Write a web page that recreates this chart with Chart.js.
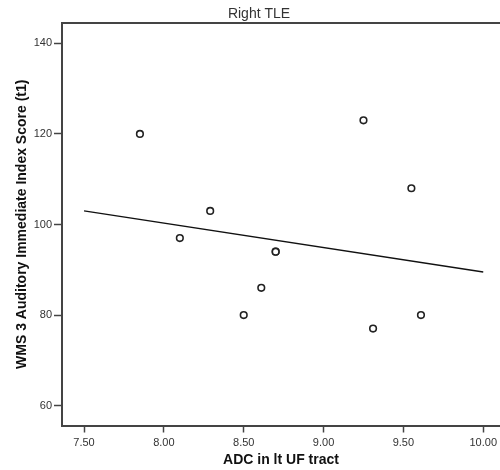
<!DOCTYPE html>
<html>
<head>
<meta charset="utf-8">
<script src="https://cdn.jsdelivr.net/npm/chart.js@4/dist/chart.umd.min.js"></script>
<style>
html,body{margin:0;padding:0;background:#fff;overflow:hidden;}
#wrap{width:500px;height:470px;position:relative;}
</style>
</head>
<body>
<div id="wrap"><canvas id="c"></canvas></div>
<script>
// Data
const adcValues = [7.85, 8.10, 8.29, 8.50, 8.61, 8.70, 8.70, 9.25, 9.31, 9.55, 9.61];
const wmsScores = [120, 97, 103, 80, 86, 94, 94, 123, 77, 108, 80];
const fitX = [7.50, 10.00];
const fitY = [103.0, 89.5];
const xTickValues = [7.5, 8.0, 8.5, 9.0, 9.5, 10.0];
const yTickValues = [60, 80, 100, 120, 140];
const chartTitle = 'Right TLE';
const xTitle = 'ADC in lt UF tract';
const yTitle = 'WMS 3 Auditory Immediate Index Score (t1)';

const FONT = "'Liberation Sans', Arial, sans-serif";
const frameColor = '#444';

const topLine = {
  id: 'topLine',
  afterDraw(chart) {
    const {ctx, chartArea} = chart;
    ctx.save();
    ctx.strokeStyle = frameColor;
    ctx.lineWidth = 2;
    ctx.beginPath();
    ctx.moveTo(chartArea.left - 1, chartArea.top);
    ctx.lineTo(chart.width, chartArea.top);
    ctx.stroke();
    ctx.restore();
  }
};

new Chart(document.getElementById('c'), {
  data: {
    datasets: [
      {
        type: 'scatter',
        data: adcValues.map((x, i) => ({x: x, y: wmsScores[i]})),
        pointRadius: 3.3,
        pointBorderWidth: 1.6,
        pointBorderColor: '#222',
        pointBackgroundColor: '#fff',
        order: 1
      },
      {
        type: 'line',
        data: fitX.map((x, i) => ({x: x, y: fitY[i]})),
        borderColor: '#111',
        borderWidth: 1.3,
        pointRadius: 0,
        fill: false,
        order: 2
      }
    ]
  },
  options: {
    responsive: true,
    maintainAspectRatio: false,
    animation: false,
    layout: {autoPadding: false, padding: {left: 18, right: 0, top: 0, bottom: 0}},
    plugins: {
      legend: {display: false},
      tooltip: {enabled: false},
      title: {
        display: true,
        text: chartTitle,
        color: '#333',
        font: {family: FONT, size: 14, weight: 'normal'},
        padding: {top: 5.6, bottom: 0.6}
      }
    },
    scales: {
      x: {
        type: 'linear',
        position: 'bottom',
        min: 7.362,
        max: 10.105,
        afterBuildTicks: s => { s.ticks = xTickValues.map(v => ({value: v})); },
        afterFit: s => { s.height = 44.5; s.paddingRight = 0; s.paddingLeft = 0; },
        ticks: {
          color: '#333',
          font: {family: FONT, size: 11},
          padding: 4,
          maxRotation: 0,
          callback: v => Number(v).toFixed(2)
        },
        grid: {drawOnChartArea: false, drawTicks: true, tickLength: 7, tickWidth: 1.5, tickColor: frameColor, color: frameColor},
        border: {display: true, color: frameColor, width: 2},
        title: {
          display: true,
          text: xTitle,
          color: '#111',
          font: {family: FONT, size: 14, weight: 'bold'},
          padding: {top: 0, bottom: 1.6}
        }
      },
      y: {
        type: 'linear',
        position: 'left',
        min: 55.6,
        max: 144.5,
        afterBuildTicks: s => { s.ticks = yTickValues.map(v => ({value: v})); },
        afterFit: s => { s.width = 44; s.paddingTop = 0; s.paddingBottom = 0; },
        ticks: {
          color: '#333',
          font: {family: FONT, size: 11},
          padding: 2,
          callback: v => String(v)
        },
        grid: {drawOnChartArea: false, drawTicks: true, tickLength: 8, tickWidth: 1.5, tickColor: frameColor, color: frameColor},
        border: {display: true, color: frameColor, width: 2},
        title: {
          display: true,
          text: yTitle,
          color: '#111',
          font: {family: FONT, size: 14, weight: 'bold'},
          padding: {top: -4, bottom: 0}
        }
      }
    }
  },
  plugins: [topLine]
});
</script>
</body>
</html>
